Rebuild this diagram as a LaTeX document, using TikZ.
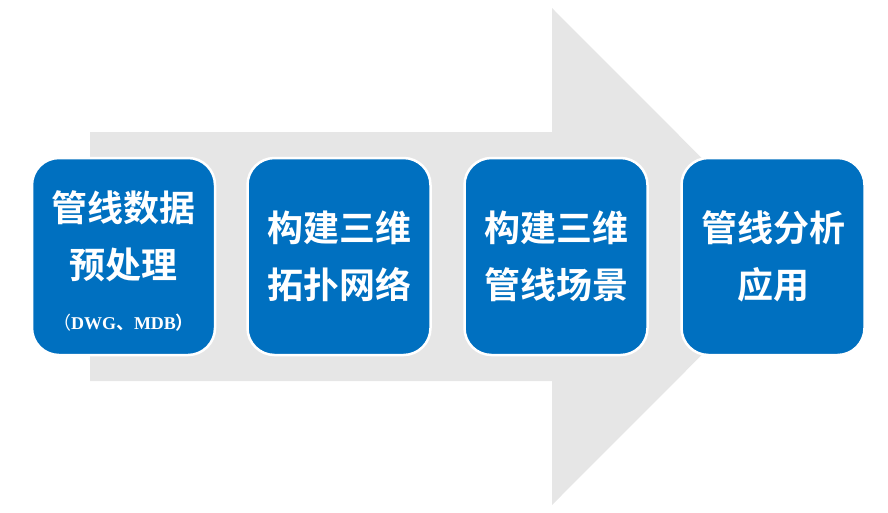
\documentclass[tikz,border=0pt]{standalone}
\usepackage{fontspec}
\newfontfamily\cjk{Noto Sans CJK SC}[BoldFont={Noto Sans CJK SC Bold}]
\newfontfamily\serifb{Liberation Serif}
\definecolor{boxblue}{HTML}{0070C0}
\definecolor{arrowgray}{HTML}{E6E6E6}
\tikzset{
  stepbox/.style={rounded corners=27pt, minimum width=183pt, minimum height=197pt,
    fill=boxblue, draw=white, line width=2.5pt, inner sep=0pt},
  bigtxt/.style={text=white, inner sep=0pt, align=center,
    font=\cjk\bfseries\fontsize{36}{57}\selectfont},
  smalltxt/.style={text=white, inner sep=0pt, font=\fontsize{18}{20}\selectfont}
}
\begin{document}
\begin{tikzpicture}[x=1pt,y=-1pt]
\useasboundingbox (0,0) rectangle (888,512);
\fill[arrowgray] (90,132) -- (552,132) -- (552,8) -- (800,256.5) -- (552,505) -- (552,381) -- (90,381) -- cycle;
\node[stepbox] (b1) at (123.5,256.5) {};
\node[stepbox] (b2) at (339,256.5) {};
\node[stepbox] (b3) at (556,256.5) {};
\node[stepbox] (b4) at (773,256.5) {};
\node[bigtxt] (t1) at (123.5,236.5) {管线数据\\预处理};
\node[smalltxt] (t1b) at (123.5,323) {\cjk （\serifb\bfseries DWG\cjk 、\serifb\bfseries MDB\cjk ）};
\node[bigtxt] (t2) at (339,256.5) {构建三维\\拓扑网络};
\node[bigtxt] (t3) at (556,256.5) {构建三维\\管线场景};
\node[bigtxt] (t4) at (773,256.5) {管线分析\\应用};
\end{tikzpicture}
\end{document}
